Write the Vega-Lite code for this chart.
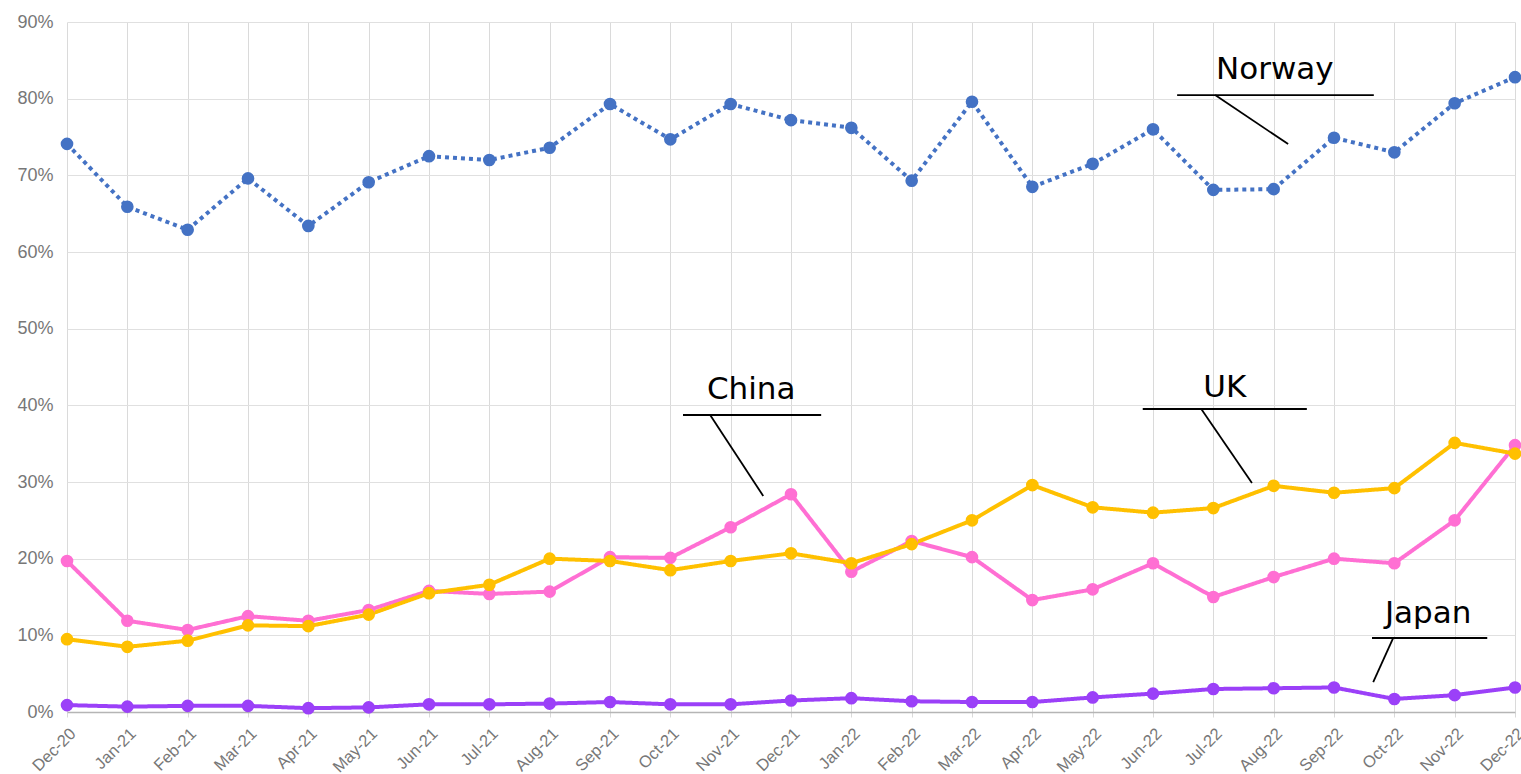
{
  "$schema": "https://vega.github.io/schema/vega-lite/v6.json",
  "autosize": {"type": "none"},
  "padding": {"left": 67, "top": 22, "right": 6, "bottom": 62},
  "width": 1448,
  "height": 690,
  "background": "white",
  "config": {
    "view": {"stroke": null},
    "font": "Liberation Sans"
  },
  "datasets": {
    "series": [
      {"m":0,"month":"Dec-20","country":"Norway","value":74.1},
      {"m":1,"month":"Jan-21","country":"Norway","value":65.9},
      {"m":2,"month":"Feb-21","country":"Norway","value":62.9},
      {"m":3,"month":"Mar-21","country":"Norway","value":69.6},
      {"m":4,"month":"Apr-21","country":"Norway","value":63.4},
      {"m":5,"month":"May-21","country":"Norway","value":69.1},
      {"m":6,"month":"Jun-21","country":"Norway","value":72.5},
      {"m":7,"month":"Jul-21","country":"Norway","value":72.0},
      {"m":8,"month":"Aug-21","country":"Norway","value":73.6},
      {"m":9,"month":"Sep-21","country":"Norway","value":79.3},
      {"m":10,"month":"Oct-21","country":"Norway","value":74.7},
      {"m":11,"month":"Nov-21","country":"Norway","value":79.3},
      {"m":12,"month":"Dec-21","country":"Norway","value":77.2},
      {"m":13,"month":"Jan-22","country":"Norway","value":76.2},
      {"m":14,"month":"Feb-22","country":"Norway","value":69.3},
      {"m":15,"month":"Mar-22","country":"Norway","value":79.6},
      {"m":16,"month":"Apr-22","country":"Norway","value":68.5},
      {"m":17,"month":"May-22","country":"Norway","value":71.5},
      {"m":18,"month":"Jun-22","country":"Norway","value":76.0},
      {"m":19,"month":"Jul-22","country":"Norway","value":68.1},
      {"m":20,"month":"Aug-22","country":"Norway","value":68.2},
      {"m":21,"month":"Sep-22","country":"Norway","value":74.9},
      {"m":22,"month":"Oct-22","country":"Norway","value":73.0},
      {"m":23,"month":"Nov-22","country":"Norway","value":79.4},
      {"m":24,"month":"Dec-22","country":"Norway","value":82.8},
      {"m":0,"month":"Dec-20","country":"Japan","value":0.9},
      {"m":1,"month":"Jan-21","country":"Japan","value":0.7},
      {"m":2,"month":"Feb-21","country":"Japan","value":0.8},
      {"m":3,"month":"Mar-21","country":"Japan","value":0.8},
      {"m":4,"month":"Apr-21","country":"Japan","value":0.5},
      {"m":5,"month":"May-21","country":"Japan","value":0.6},
      {"m":6,"month":"Jun-21","country":"Japan","value":1.0},
      {"m":7,"month":"Jul-21","country":"Japan","value":1.0},
      {"m":8,"month":"Aug-21","country":"Japan","value":1.1},
      {"m":9,"month":"Sep-21","country":"Japan","value":1.3},
      {"m":10,"month":"Oct-21","country":"Japan","value":1.0},
      {"m":11,"month":"Nov-21","country":"Japan","value":1.0},
      {"m":12,"month":"Dec-21","country":"Japan","value":1.5},
      {"m":13,"month":"Jan-22","country":"Japan","value":1.8},
      {"m":14,"month":"Feb-22","country":"Japan","value":1.4},
      {"m":15,"month":"Mar-22","country":"Japan","value":1.3},
      {"m":16,"month":"Apr-22","country":"Japan","value":1.3},
      {"m":17,"month":"May-22","country":"Japan","value":1.9},
      {"m":18,"month":"Jun-22","country":"Japan","value":2.4},
      {"m":19,"month":"Jul-22","country":"Japan","value":3.0},
      {"m":20,"month":"Aug-22","country":"Japan","value":3.1},
      {"m":21,"month":"Sep-22","country":"Japan","value":3.2},
      {"m":22,"month":"Oct-22","country":"Japan","value":1.7},
      {"m":23,"month":"Nov-22","country":"Japan","value":2.2},
      {"m":24,"month":"Dec-22","country":"Japan","value":3.2},
      {"m":0,"month":"Dec-20","country":"China","value":19.7},
      {"m":1,"month":"Jan-21","country":"China","value":11.9},
      {"m":2,"month":"Feb-21","country":"China","value":10.7},
      {"m":3,"month":"Mar-21","country":"China","value":12.5},
      {"m":4,"month":"Apr-21","country":"China","value":11.9},
      {"m":5,"month":"May-21","country":"China","value":13.3},
      {"m":6,"month":"Jun-21","country":"China","value":15.8},
      {"m":7,"month":"Jul-21","country":"China","value":15.4},
      {"m":8,"month":"Aug-21","country":"China","value":15.7},
      {"m":9,"month":"Sep-21","country":"China","value":20.2},
      {"m":10,"month":"Oct-21","country":"China","value":20.1},
      {"m":11,"month":"Nov-21","country":"China","value":24.1},
      {"m":12,"month":"Dec-21","country":"China","value":28.4},
      {"m":13,"month":"Jan-22","country":"China","value":18.3},
      {"m":14,"month":"Feb-22","country":"China","value":22.3},
      {"m":15,"month":"Mar-22","country":"China","value":20.2},
      {"m":16,"month":"Apr-22","country":"China","value":14.6},
      {"m":17,"month":"May-22","country":"China","value":16.0},
      {"m":18,"month":"Jun-22","country":"China","value":19.4},
      {"m":19,"month":"Jul-22","country":"China","value":15.0},
      {"m":20,"month":"Aug-22","country":"China","value":17.6},
      {"m":21,"month":"Sep-22","country":"China","value":20.0},
      {"m":22,"month":"Oct-22","country":"China","value":19.4},
      {"m":23,"month":"Nov-22","country":"China","value":25.0},
      {"m":24,"month":"Dec-22","country":"China","value":34.8},
      {"m":0,"month":"Dec-20","country":"UK","value":9.5},
      {"m":1,"month":"Jan-21","country":"UK","value":8.5},
      {"m":2,"month":"Feb-21","country":"UK","value":9.3},
      {"m":3,"month":"Mar-21","country":"UK","value":11.3},
      {"m":4,"month":"Apr-21","country":"UK","value":11.2},
      {"m":5,"month":"May-21","country":"UK","value":12.7},
      {"m":6,"month":"Jun-21","country":"UK","value":15.5},
      {"m":7,"month":"Jul-21","country":"UK","value":16.6},
      {"m":8,"month":"Aug-21","country":"UK","value":20.0},
      {"m":9,"month":"Sep-21","country":"UK","value":19.7},
      {"m":10,"month":"Oct-21","country":"UK","value":18.5},
      {"m":11,"month":"Nov-21","country":"UK","value":19.7},
      {"m":12,"month":"Dec-21","country":"UK","value":20.7},
      {"m":13,"month":"Jan-22","country":"UK","value":19.4},
      {"m":14,"month":"Feb-22","country":"UK","value":21.9},
      {"m":15,"month":"Mar-22","country":"UK","value":25.0},
      {"m":16,"month":"Apr-22","country":"UK","value":29.6},
      {"m":17,"month":"May-22","country":"UK","value":26.7},
      {"m":18,"month":"Jun-22","country":"UK","value":26.0},
      {"m":19,"month":"Jul-22","country":"UK","value":26.6},
      {"m":20,"month":"Aug-22","country":"UK","value":29.5},
      {"m":21,"month":"Sep-22","country":"UK","value":28.6},
      {"m":22,"month":"Oct-22","country":"UK","value":29.2},
      {"m":23,"month":"Nov-22","country":"UK","value":35.1},
      {"m":24,"month":"Dec-22","country":"UK","value":33.7}
    ],
    "leaders": [
      {"label":"Norway","x":18.40,"x2":21.66,"y":80.47,"y2":80.47},
      {"label":"Norway","x":19.03,"x2":20.24,"y":80.47,"y2":74.08},
      {"label":"China","x":10.21,"x2":12.50,"y":38.74,"y2":38.74},
      {"label":"China","x":10.66,"x2":11.54,"y":38.74,"y2":28.17},
      {"label":"UK","x":17.83,"x2":20.55,"y":39.52,"y2":39.52},
      {"label":"UK","x":18.80,"x2":19.64,"y":39.52,"y2":29.87},
      {"label":"Japan","x":21.63,"x2":23.54,"y":9.65,"y2":9.65},
      {"label":"Japan","x":21.98,"x2":21.65,"y":9.65,"y2":3.91}
    ],
    "labels": [
      {"label":"Norway","x":20.02,"y":82.56},
      {"label":"China","x":11.34,"y":40.82},
      {"label":"UK","x":19.19,"y":41.09},
      {"label":"Japan","x":22.56,"y":11.61}
    ]
  },
  "layer": [
    {
      "data": {"name": "series"},
      "mark": {"type": "line", "strokeWidth": 4, "strokeCap": "butt", "strokeJoin": "round"},
      "encoding": {
        "x": {
          "field": "m", "type": "quantitative",
          "scale": {"domain": [0, 24], "nice": false, "zero": false},
          "axis": {
            "title": null,
            "values": [0,1,2,3,4,5,6,7,8,9,10,11,12,13,14,15,16,17,18,19,20,21,22,23,24],
            "labelExpr": "['Dec-20','Jan-21','Feb-21','Mar-21','Apr-21','May-21','Jun-21','Jul-21','Aug-21','Sep-21','Oct-21','Nov-21','Dec-21','Jan-22','Feb-22','Mar-22','Apr-22','May-22','Jun-22','Jul-22','Aug-22','Sep-22','Oct-22','Nov-22','Dec-22'][datum.value]",
            "labelAngle": -45,
            "labelAlign": "right",
            "labelBaseline": "top",
            "labelFontSize": 16.5,
            "labelColor": "#777777",
            "labelPadding": 8,
            "labelFlush": false,
            "labelOverlap": false,
            "labelBound": false,
            "ticks": true,
            "tickSize": 5,
            "tickColor": "#d9d9d9",
            "grid": true,
            "gridColor": "#dadada",
            "gridWidth": 1,
            "domain": true,
            "domainColor": "#b5b5b5",
            "domainWidth": 1.5
          }
        },
        "y": {
          "field": "value", "type": "quantitative",
          "scale": {"domain": [0, 90], "nice": false},
          "axis": {
            "title": null,
            "values": [0,10,20,30,40,50,60,70,80,90],
            "labelExpr": "datum.value + '%'",
            "labelFontSize": 18,
            "labelColor": "#777777",
            "labelPadding": 14,
            "ticks": false,
            "domain": false,
            "grid": true,
            "gridColor": "#e0e0e0",
            "gridWidth": 1
          }
        },
        "color": {
          "field": "country", "type": "nominal",
          "scale": {"domain": ["Norway","China","UK","Japan"], "range": ["#4472c4","#ff6fd3","#ffc000","#9b40f8"]},
          "legend": null
        },
        "strokeDash": {
          "field": "country", "type": "nominal",
          "scale": {"domain": ["Norway","China","UK","Japan"], "range": [[4,4],[1,0],[1,0],[1,0]]},
          "legend": null
        }
      }
    },
    {
      "data": {"name": "series"},
      "mark": {"type": "point", "filled": true, "size": 160, "opacity": 1},
      "encoding": {
        "x": {"field": "m", "type": "quantitative"},
        "y": {"field": "value", "type": "quantitative"},
        "color": {"field": "country", "type": "nominal", "legend": null}
      }
    },
    {
      "data": {"name": "leaders"},
      "mark": {"type": "rule", "color": "black", "strokeWidth": 1.8},
      "encoding": {
        "x": {"field": "x", "type": "quantitative"},
        "x2": {"field": "x2"},
        "y": {"field": "y", "type": "quantitative"},
        "y2": {"field": "y2"}
      }
    },
    {
      "data": {"name": "labels"},
      "mark": {"type": "text", "font": "DejaVu Sans", "fontSize": 31, "color": "black", "align": "center", "baseline": "alphabetic"},
      "encoding": {
        "x": {"field": "x", "type": "quantitative"},
        "y": {"field": "y", "type": "quantitative"},
        "text": {"field": "label"}
      }
    }
  ]
}
